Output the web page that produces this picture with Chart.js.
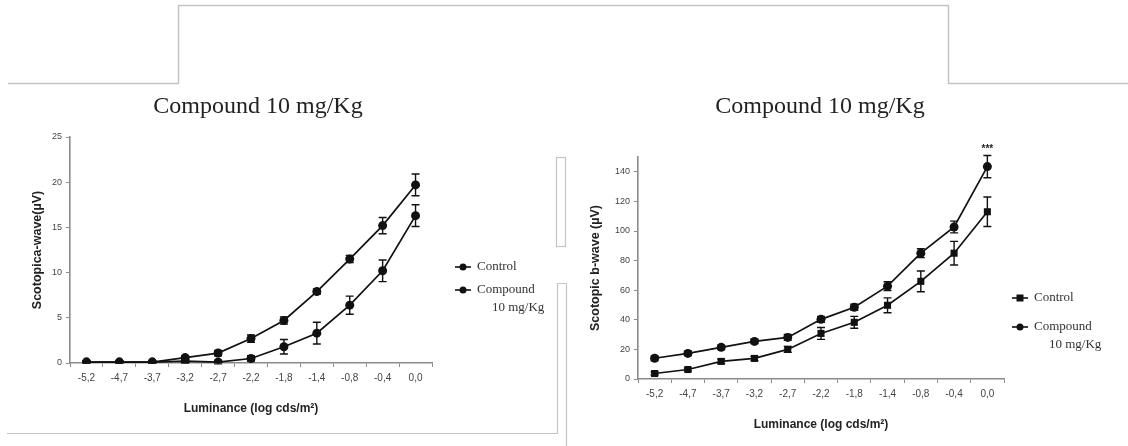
<!DOCTYPE html>
<html>
<head>
<meta charset="utf-8">
<script src="https://cdn.jsdelivr.net/npm/chart.js@4.4.1/dist/chart.umd.min.js"></script>
<style>
  html,body{margin:0;padding:0;background:#fff;}
  #wrap{position:relative;width:1128px;height:446px;overflow:hidden;background:#fff;}
  canvas{position:absolute;top:0;}
  #c1{left:0;}
  #c2{left:566px;}
  .title{position:absolute;font-family:"Liberation Serif",serif;font-size:24px;color:#222;white-space:nowrap;transform:translateX(-50%);}
  svg{position:absolute;left:0;top:0;pointer-events:none;}
</style>
</head>
<body>
<div id="wrap">
  <canvas id="c1" width="555" height="446"></canvas>
  <canvas id="c2" width="562" height="446"></canvas>
  <div class="title" style="left:258px;top:92px;">Compound 10 mg/Kg</div>
  <div class="title" style="left:820px;top:92px;">Compound 10 mg/Kg</div>
  <svg width="1128" height="446">
    <polyline points="8,83.5 178.5,83.5 178.5,5.5 948.5,5.5 948.5,83.5 1128,83.5" fill="none" stroke="#c4c4c4" stroke-width="1.5"/>
    <rect x="556.5" y="157.5" width="9" height="89" fill="none" stroke="#c4c4c4" stroke-width="1.2"/>
    <polyline points="7,433.5 557.5,433.5 557.5,283.5 566.5,283.5" fill="none" stroke="#c4c4c4" stroke-width="1.2"/>
    <line x1="566.5" y1="283.5" x2="566.5" y2="446" stroke="#c4c4c4" stroke-width="1.2"/>
  </svg>
</div>
<script>
// ---- data ----
const categories = ['-5,2','-4,7','-3,7','-3,2','-2,7','-2,2','-1,8','-1,4','-0,8','-0,4','0,0'];

const aControl      = [0.1, 0.1, 0.1, 0.2, 0.1, 0.5, 1.8, 3.3, 6.4, 10.2, 16.3];
const aControlErr   = [0.1, 0.1, 0.1, 0.2, 0.2, 0.3, 0.8, 1.2, 1.0, 1.2, 1.2];
const aCompound     = [0.1, 0.1, 0.1, 0.6, 1.1, 2.7, 4.7, 7.9, 11.5, 15.2, 19.7];
const aCompoundErr  = [0.1, 0.1, 0.1, 0.2, 0.3, 0.4, 0.4, 0.3, 0.4, 0.9, 1.2];

const bControl      = [3.7, 6.4, 11.9, 13.9, 20.0, 30.8, 38.3, 49.8, 66.0, 85.0, 113.0];
const bControlErr   = [1.0, 1.0, 1.5, 1.5, 2.0, 4.0, 4.0, 5.0, 7.0, 8.0, 10.0];
const bCompound     = [14.0, 17.3, 21.4, 25.4, 28.1, 40.3, 48.5, 62.7, 85.0, 102.7, 143.5];
const bCompoundErr  = [1.5, 1.5, 1.5, 1.5, 2.0, 2.0, 2.0, 3.0, 3.0, 4.0, 7.5];

const aTicks = [0, 5, 10, 15, 20, 25];
const bTicks = [0, 20, 40, 60, 80, 100, 120, 140];
const seriesNames = ['Control', 'Compound', '10 mg/Kg'];
const significance = '***';

// ---- helpers ----
const INK = '#111';
const AXIS = '#8a8a8a';

const errorBarPlugin = {
  id: 'errbars',
  afterDatasetsDraw(chart) {
    const ctx = chart.ctx;
    const ys = chart.scales.y;
    chart.data.datasets.forEach((ds, di) => {
      const meta = chart.getDatasetMeta(di);
      ctx.save();
      ctx.strokeStyle = INK;
      ctx.lineWidth = 1.4;
      meta.data.forEach((pt, i) => {
        const e = ds.errors[i];
        const v = ds.data[i];
        const y1 = ys.getPixelForValue(v + e);
        const y2 = ys.getPixelForValue(v - e);
        const x = pt.x;
        ctx.beginPath();
        ctx.moveTo(x, y1); ctx.lineTo(x, y2);
        ctx.moveTo(x - 4, y1); ctx.lineTo(x + 4, y1);
        ctx.moveTo(x - 4, y2); ctx.lineTo(x + 4, y2);
        ctx.stroke();
      });
      ctx.restore();
    });
  }
};

function legendPlugin(cfg) {
  return {
    id: 'customLegend',
    afterDraw(chart) {
      const ctx = chart.ctx;
      ctx.save();
      ctx.font = '13px "Liberation Serif", serif';
      ctx.textBaseline = 'middle';
      cfg.items.forEach(it => {
        const ds = chart.data.datasets[it.ds];
        ctx.strokeStyle = INK;
        ctx.lineWidth = 1.6;
        ctx.beginPath();
        ctx.moveTo(cfg.x, it.y); ctx.lineTo(cfg.x + 16, it.y);
        ctx.stroke();
        ctx.fillStyle = INK;
        if (ds.pointStyle === 'rect') {
          ctx.fillRect(cfg.x + 8 - 3.5, it.y - 3.5, 7, 7);
        } else {
          ctx.beginPath(); ctx.arc(cfg.x + 8, it.y, 3.5, 0, Math.PI * 2); ctx.fill();
        }
        ctx.fillStyle = '#333';
        ctx.textAlign = 'left';
        ctx.fillText(it.text[0], cfg.x + 22, it.y);
        if (it.text[1]) ctx.fillText(it.text[1], cfg.x + 37, it.y + 18);
      });
      ctx.restore();
    }
  };
}

const starPlugin = {
  id: 'stars',
  afterDraw(chart) {
    const ds = chart.data.datasets[1];
    const meta = chart.getDatasetMeta(1);
    const i = ds.data.length - 1;
    const x = meta.data[i].x;
    const y = chart.scales.y.getPixelForValue(ds.data[i] + ds.errors[i]);
    const ctx = chart.ctx;
    ctx.save();
    ctx.font = 'bold 10px "Liberation Sans", sans-serif';
    ctx.fillStyle = '#222';
    ctx.textAlign = 'center';
    ctx.textBaseline = 'bottom';
    ctx.fillText(significance, x, y - 1);
    ctx.restore();
  }
};

function makeOptions(o) {
  return {
    responsive: false,
    animation: false,
    layout: { padding: o.padding },
    plugins: { legend: { display: false }, tooltip: { enabled: false } },
    scales: {
      x: {
        type: 'category',
        offset: true,
        grid: { display: true, drawOnChartArea: false, offset: true, tickLength: 4, color: AXIS, lineWidth: 1 },
        border: { display: true, color: AXIS, width: 1.6 },
        ticks: { color: '#444', font: { family: '"Liberation Sans", sans-serif', size: 10 }, padding: 5, maxRotation: 0, autoSkip: false },
        title: { display: true, text: 'Luminance (log cds/m²)', color: '#222', font: { family: '"Liberation Sans", sans-serif', size: 12, weight: 'bold' }, padding: { top: o.xTitleGap, bottom: 0 } },
        afterFit(s) { s.height = o.xHeight; }
      },
      y: {
        min: o.min, max: o.max,
        afterBuildTicks(s) { s.ticks = o.ticks.map(v => ({ value: v })); },
        grid: { display: true, drawOnChartArea: false, tickLength: 4, color: AXIS, lineWidth: 1 },
        border: { display: true, color: AXIS, width: 1.6 },
        ticks: { color: '#444', font: { family: '"Liberation Sans", sans-serif', size: 9 }, padding: 4 },
        title: { display: true, text: o.yTitle, color: '#222', font: { family: '"Liberation Sans", sans-serif', size: 12.5, weight: 'bold' }, padding: { top: 0, bottom: o.yTitleGap } },
        afterFit(s) { s.width = o.yWidth; }
      }
    }
  };
}

function ds(label, data, errors, style, radius) {
  return {
    label, data, errors,
    borderColor: INK, backgroundColor: INK,
    pointBackgroundColor: INK, pointBorderColor: INK,
    pointStyle: style, pointRadius: radius, pointBorderWidth: 0,
    borderWidth: 1.7, tension: 0, fill: false
  };
}

// ---- left chart ----
new Chart(document.getElementById('c1'), {
  type: 'line',
  data: {
    labels: categories,
    datasets: [
      ds(seriesNames[0], aControl, aControlErr, 'circle', 4.5),
      ds(seriesNames[1] + ' ' + seriesNames[2], aCompound, aCompoundErr, 'circle', 4.5)
    ]
  },
  options: makeOptions({
    padding: { left: 30, right: 123, top: 137, bottom: 30 },
    min: 0, max: 25, ticks: aTicks,
    yTitle: 'Scotopica-wave(µV)', yWidth: 40, yTitleGap: 6,
    xHeight: 53, xTitleGap: 10
  }),
  plugins: [errorBarPlugin, legendPlugin({ x: 455, items: [
    { ds: 0, y: 267, text: [seriesNames[0]] },
    { ds: 1, y: 290, text: [seriesNames[1], seriesNames[2]] }
  ] })]
});

// ---- right chart ----
new Chart(document.getElementById('c2'), {
  type: 'line',
  data: {
    labels: categories,
    datasets: [
      ds(seriesNames[0], bControl, bControlErr, 'rect', 5),
      ds(seriesNames[1] + ' ' + seriesNames[2], bCompound, bCompoundErr, 'circle', 4.5)
    ]
  },
  options: makeOptions({
    padding: { left: 22, right: 124, top: 157, bottom: 14 },
    min: 0, max: 150, ticks: bTicks,
    yTitle: 'Scotopic b-wave (µV)', yWidth: 50, yTitleGap: 4,
    xHeight: 53, xTitleGap: 10
  }),
  plugins: [errorBarPlugin, starPlugin, legendPlugin({ x: 446, items: [
    { ds: 0, y: 298, text: [seriesNames[0]] },
    { ds: 1, y: 327, text: [seriesNames[1], seriesNames[2]] }
  ] })]
});
</script>
</body>
</html>
